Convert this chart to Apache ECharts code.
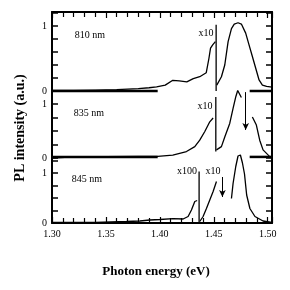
<!DOCTYPE html>
<html><head><meta charset="utf-8">
<script src="https://cdn.jsdelivr.net/npm/echarts@6/dist/echarts.min.js"></script>
<style>html,body{margin:0;padding:0;background:#fff}#c{width:290px;height:290px}</style>
</head><body><div id="c"></div>
<script>
// ---- data (photon energy in eV, PL intensity in a.u.) ----
const xTicks = [1.30, 1.35, 1.40, 1.45, 1.50];
const sampleNames = ['810 nm', '835 nm', '845 nm'];

// 810 nm
const e810a = [1.300,1.320,1.340,1.360,1.380,1.390,1.397,1.405,1.412,1.418,1.425,1.431,1.437,1.443,1.4455,1.447,1.449,1.4505,1.4515];
const i810a = [0.01,0.01,0.015,0.02,0.035,0.05,0.065,0.09,0.165,0.155,0.14,0.19,0.22,0.28,0.50,0.66,0.71,0.68,0.76];
const e810b = [1.4528,1.4571,1.4602,1.4633,1.4664,1.4690,1.4725,1.4756,1.4796,1.4827,1.4858,1.4889,1.4920,1.4951,1.4990,1.5040];
const i810b = [0.09,0.22,0.40,0.76,0.96,1.03,1.05,1.03,0.89,0.71,0.53,0.35,0.17,0.09,0.07,0.06];

// 835 nm
const e835a = [1.300,1.320,1.350,1.380,1.398,1.412,1.4247,1.4324,1.437,1.4417,1.4463,1.4494];
const i835a = [0.0,0.02,0.025,0.03,0.03,0.055,0.12,0.21,0.33,0.49,0.67,0.74];
const e835b = [1.4525,1.4571,1.4602,1.4648,1.4679,1.4705,1.4722,1.4740,1.4756];
const i835b = [0.15,0.21,0.39,0.64,0.92,1.14,1.25,1.24,1.12];
const e835c = [1.4858,1.4895,1.4926,1.4957,1.5019,1.5040];
const i835c = [0.76,0.61,0.33,0.15,0.025,0.02];

// 845 nm
const e845a = [1.300,1.340,1.3691,1.3815,1.3907,1.400,1.4123,1.4216,1.4262,1.4293,1.4324,1.4346];
const i845a = [0.01,0.01,0.03,0.04,0.06,0.07,0.086,0.08,0.13,0.26,0.43,0.45];
const e845b = [1.437,1.4401,1.4432,1.4463,1.4494,1.4525];
const i845b = [0.03,0.13,0.29,0.46,0.63,0.83];
const e845c = [1.4664,1.4679,1.4704,1.4725,1.4747,1.4766,1.4785,1.4805,1.4835,1.4882,1.4957,1.5040];
const i845c = [0.49,0.79,1.13,1.34,1.36,1.20,0.98,0.56,0.29,0.13,0.04,0.01];

// scale-change markers (energy, top value) per panel
const markerE = [1.4522, 1.4519, 1.4364];
const markerBottom = [0, 0.12, 0];
const markerTop = [1.02, 1.13, 1.03];
// zero baselines [start, end] energies (panels 1, 2)
const baseLeft = [1.300, 1.398];
const baseRight = [1.4833, 1.504];
const baseLevel = [0, 0.02];
// arrows: energy, from, to (panels 2, 3)
const arrowE = [1.4796, 1.458];
const arrowFrom = [1.22, 0.92];
const arrowTo = [0.52, 0.52];

// ---- layout ----
const L = 52, W = 220;
const panels = [
  {top: 12, height: 79, max: 79/65, interval: 0.2},
  {top: 91, height: 67, max: 67/54, interval: 0.25},
  {top: 158, height: 65, max: 65/50, interval: 0.25}
];
const FONT = 'Liberation Serif';
const zip = (a, b) => a.map((v, i) => [v, b[i]]);

const grids = panels.map(p => ({left: L, width: W, top: p.top, height: p.height}));
const xAxes = panels.map((p, i) => ({
  type: 'value', gridIndex: i, min: 1.30, max: 1.504, interval: 0.05,
  show: i !== 1,
  position: i === 0 ? 'top' : 'bottom',
  axisLine: {show: true, onZero: false, lineStyle: {color: '#000', width: 2}},
  axisTick: {show: true, inside: true, length: 6, lineStyle: {color: '#000', width: 1.2}},
  minorTick: {show: true, splitNumber: 5, length: 5, lineStyle: {color: '#000', width: 1.2}},
  splitLine: {show: false},
  axisLabel: {
    show: i === 2, color: '#000', fontFamily: FONT, fontSize: 10, margin: 6,
    formatter: v => xTicks.some(t => Math.abs(t - v) < 1e-6) ? v.toFixed(2) : ''
  }
}));
const yAxes = [];
panels.forEach((p, i) => {
  ['left', 'right'].forEach(pos => {
    yAxes.push({
      type: 'value', gridIndex: i, min: 0, max: p.max, interval: p.interval, position: pos,
      axisLine: {show: true, onZero: false, lineStyle: {color: '#000', width: 2}},
      axisTick: {show: true, inside: true, length: 6, lineStyle: {color: '#000', width: 1.5}},
      splitLine: {show: false},
      axisLabel: {
        show: pos === 'left', color: '#000', fontFamily: FONT, fontSize: 10, margin: 5,
        formatter: v => (Math.abs(v) < 1e-9 ? '0' : Math.abs(v - 1) < 1e-9 ? '1' : '')
      }
    });
  });
});

const lineBase = {type: 'line', symbol: 'none', showSymbol: false, clip: false, animation: false, silent: true};
const curve = (i, data, w) => Object.assign({}, lineBase, {
  xAxisIndex: i, yAxisIndex: 2 * i, data, lineStyle: {color: '#000', width: w || 1.3}
});

const series = [
  curve(0, zip(e810a, i810a)), curve(0, zip(e810b, i810b)),
  curve(1, zip(e835a, i835a)), curve(1, zip(e835b, i835b)), curve(1, zip(e835c, i835c)),
  curve(2, zip(e845a, i845a)), curve(2, zip(e845b, i845b)), curve(2, zip(e845c, i845c))
];
// scale-change vertical markers
markerE.forEach((e, i) => series.push(curve(i, [[e, markerBottom[i]], [e, markerTop[i]]], 1.3)));
// thick zero baselines
[0, 1].forEach(i => {
  series.push(curve(i, baseLeft.map(e => [e, baseLevel[i]]), 2.5));
  series.push(curve(i, baseRight.map(e => [e, baseLevel[i]]), 2.5));
});
// arrows
arrowE.forEach((e, k) => {
  const s = curve(k + 1, [], 1);
  s.markLine = {
    silent: true, animation: false, symbol: ['none', 'arrow'], symbolSize: [5, 7],
    label: {show: false}, lineStyle: {color: '#000', width: 1, type: 'solid'},
    data: [[{coord: [e, arrowFrom[k]]}, {coord: [e, arrowTo[k]]}]]
  };
  series.push(s);
});

const txt = (x, y, t, size, bold, rot) => ({
  type: 'text', x, y, rotation: rot || 0,
  style: {text: t, fill: '#000', font: (bold ? 'bold ' : '') + size + 'px "' + FONT + '"', align: 'center', verticalAlign: 'middle'}
});
const graphic = [
  txt(90, 35, sampleNames[0], 10), txt(89, 113, sampleNames[1], 10), txt(87, 179, sampleNames[2], 10),
  txt(206, 33, 'x10', 10), txt(205, 106, 'x10', 10), txt(187, 171, 'x100', 10), txt(213, 171, 'x10', 10),
  txt(20, 128, 'PL intensity (a.u.)', 14, true, Math.PI / 2),
  txt(156, 272, 'Photon energy (eV)', 13, true)
];

const chart = echarts.init(document.getElementById('c'), null, {renderer: 'canvas'});
chart.setOption({animation: false, grid: grids, xAxis: xAxes, yAxis: yAxes, series, graphic});
</script></body></html>
